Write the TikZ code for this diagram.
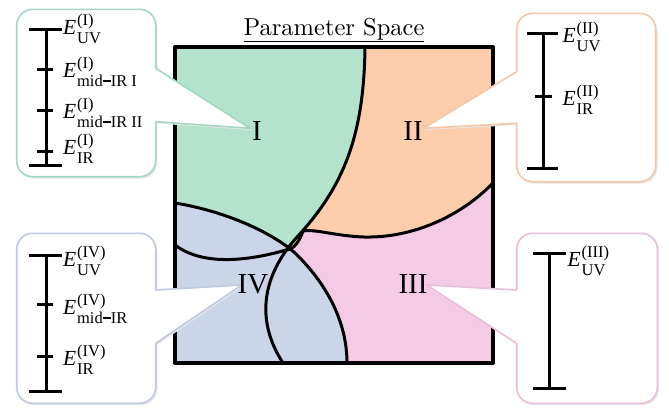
\documentclass[tikz,border=0pt]{standalone}
\usepackage{fontspec}
\newfontfamily\tmr{Liberation Serif}
\newfontfamily\lmten{lmroman10-regular.otf}
\definecolor{pgreen}{HTML}{B3E2CD}
\definecolor{porange}{HTML}{FDCDAC}
\definecolor{pblue}{HTML}{CBD5E8}
\definecolor{ppink}{HTML}{F4CAE4}
\definecolor{bgreen}{HTML}{A4D8C1}
\definecolor{borange}{HTML}{F5C6A5}
\definecolor{bpink}{HTML}{E8BFDB}
\definecolor{bblue}{HTML}{BFC9DF}
\newcommand{\scr}{\tmr\fontsize{16.5}{17}\selectfont}
\newcommand{\dsh}{\rule[4.2pt]{8pt}{1.4pt}}
\newcommand{\Elab}[2]{{\tmr\fontsize{21.5}{24}\selectfont\textit{E}\kern0.8pt\rlap{\raisebox{9pt}{\scr #1}}\raisebox{-9pt}{\scr #2}}}
\begin{document}
\begin{tikzpicture}[x=1pt,y=-1pt,line join=round,
  curveA/.style={insert path={(365,47) .. controls (364,135) and (344,186) .. (298,236) .. controls (262,275) and (255,320) .. (283,363)}},
  curveB/.style={insert path={(493,183) .. controls (455,222) and (400,242) .. (350,236) .. controls (330,234) and (312,229) .. (303,231) .. controls (300,240) and (294,250) .. (286,250) .. controls (255,259) and (205,268) .. (175,245)}},
  curveC/.style={insert path={(175,203) .. controls (230,212) and (275,235) .. (295,253) .. controls (325,282) and (347,320) .. (347,363)}},
  bnd/.style={line width=3pt},
  frame/.style={line width=4pt},
  bar/.style={line width=3pt},
  shade/.style={fill=black!9},
  boxstyle/.style={fill=white, draw=#1, line width=1.6pt, rounded corners=16pt},
  wedgeline/.style={draw=#1, line width=1.6pt},
  elab/.style={anchor=base west, inner sep=0pt},
  rlab/.style={anchor=base, inner sep=0pt, font={\tmr\fontsize{29}{32}\selectfont}},
]
\useasboundingbox (0,0) rectangle (669,407);
\coordinate (sqNW) at (175,47);
\coordinate (sqSE) at (493,363);
% regions
\fill[pblue] (sqNW) rectangle (sqSE);
\begin{scope}
  \clip[curveA] -- (175,363) -- (175,47) -- cycle;
  \clip[curveC] -- (493,363) -- (493,47) -- (175,47) -- cycle;
  \fill[pgreen] (sqNW) rectangle (sqSE);
\end{scope}
\begin{scope}
  \clip[curveA] -- (493,363) -- (493,47) -- cycle;
  \clip[curveB] -- (175,47) -- (493,47) -- cycle;
  \fill[porange] (sqNW) rectangle (sqSE);
\end{scope}
\begin{scope}
  \clip[curveB] -- (175,363) -- (493,363) -- cycle;
  \clip[curveC] -- (493,363) -- (493,47) -- (175,47) -- cycle;
  \fill[ppink] (sqNW) rectangle (sqSE);
\end{scope}
\begin{scope}
  \clip (sqNW) rectangle (sqSE);
  \draw[bnd][curveA];
  \draw[bnd][curveB];
  \draw[bnd][curveC];
\end{scope}
\draw[frame] (sqNW) rectangle (sqSE);
% title
\node[anchor=base, inner sep=0pt, font={\lmten\fontsize{24.5}{28}\selectfont}] (title) at (334,35) {\underline{Parameter Space}};
% callout I
\coordinate (tipI) at (250,128.3);
\fill[shade, rounded corners=16pt] (18,11) rectangle (157.5,178.5);
\fill[shade] (157,70) -- (251.5,130) -- (157,123.5) -- cycle;
\path[boxstyle=bgreen] (16.7,9.3) rectangle (155.7,176.7);
\fill[white] (150,68.3) -- (155.7,68.3) -- (tipI) -- (155.7,121.7) -- (150,121.7) -- cycle;
\draw[wedgeline=bgreen] (155.7,68.3) -- (tipI) -- (155.7,121.7);
% callout II
\coordinate (tipII) at (423.3,128.3);
\fill[shade, rounded corners=16pt] (518,15) rectangle (657.5,183.5);
\fill[shade] (518,73.5) -- (424.5,130) -- (518,125) -- cycle;
\path[boxstyle=borange] (516.7,13.3) rectangle (655.7,181.7);
\fill[white] (522,71.7) -- (516.7,71.7) -- (tipII) -- (516.7,123.3) -- (522,123.3) -- cycle;
\draw[wedgeline=borange] (516.7,71.7) -- (tipII) -- (516.7,123.3);
% callout III
\coordinate (tipIII) at (426.7,285);
\fill[shade, rounded corners=16pt] (518,235) rectangle (659,405);
\fill[shade] (518,291.5) -- (428,286.5) -- (518,345) -- cycle;
\path[boxstyle=bpink] (516.7,233.3) rectangle (657.3,403.3);
\fill[white] (522,290) -- (516.7,290) -- (tipIII) -- (516.7,343.3) -- (522,343.3) -- cycle;
\draw[wedgeline=bpink] (516.7,290) -- (tipIII) -- (516.7,343.3);
% callout IV
\coordinate (tipIV) at (241.7,285);
\fill[shade, rounded corners=16pt] (18,235) rectangle (157.5,405);
\fill[shade] (157,291.5) -- (243,286.5) -- (157,345) -- cycle;
\path[boxstyle=bblue] (16.7,233.3) rectangle (155.7,403.3);
\fill[white] (150,290) -- (155.7,290) -- (tipIV) -- (155.7,343.3) -- (150,343.3) -- cycle;
\draw[wedgeline=bblue] (155.7,290) -- (tipIV) -- (155.7,343.3);
% scale I
\draw[bar] (46,29.3) -- (46,165);
\draw[bar] (29,29.3) -- (62,29.3);
\draw[bar] (29,165) -- (62,165);
\draw[bar] (37,69.3) -- (53,69.3);
\draw[bar] (37,110) -- (53,110);
\draw[bar] (37,151.7) -- (53,151.7);
\node[elab] (eIa) at (63,34) {\Elab{(I)}{UV}};
\node[elab] (eIb) at (63,77) {\Elab{(I)}{mid\dsh IR I}};
\node[elab] (eIc) at (63,118) {\Elab{(I)}{mid\dsh IR II}};
\node[elab] (eId) at (63,154) {\Elab{(I)}{IR}};
% scale IV
\draw[bar] (46,255) -- (46,391.7);
\draw[bar] (29,255) -- (62,255);
\draw[bar] (29,391.7) -- (62,391.7);
\draw[bar] (37,304.3) -- (53,304.3);
\draw[bar] (37,356.7) -- (53,356.7);
\node[elab] (eIVa) at (63,266) {\Elab{(IV)}{UV}};
\node[elab] (eIVb) at (63,314) {\Elab{(IV)}{mid\dsh IR}};
\node[elab] (eIVc) at (63,365) {\Elab{(IV)}{IR}};
% scale II
\draw[bar] (543.3,33.3) -- (543.3,168.3);
\draw[bar] (527.3,33.3) -- (558.3,33.3);
\draw[bar] (527.3,168.3) -- (558.3,168.3);
\draw[bar] (535,96.7) -- (551.7,96.7);
\node[elab] (eIIa) at (562.5,42.5) {\Elab{(II)}{UV}};
\node[elab] (eIIb) at (562.5,105) {\Elab{(II)}{IR}};
% scale III
\draw[bar] (549.3,253.3) -- (549.3,388.3);
\draw[bar] (533.3,253.3) -- (565.7,253.3);
\draw[bar] (533.3,388.3) -- (565.7,388.3);
\node[elab] (eIIIa) at (567.5,266.5) {\Elab{(III)}{UV}};
% region labels
\node[rlab] (rI) at (257,140) {I};
\node[rlab] (rII) at (413,140) {II};
\node[rlab] (rIII) at (413,293) {III};
\node[rlab] (rIV) at (253,293) {IV};
\end{tikzpicture}
\end{document}
